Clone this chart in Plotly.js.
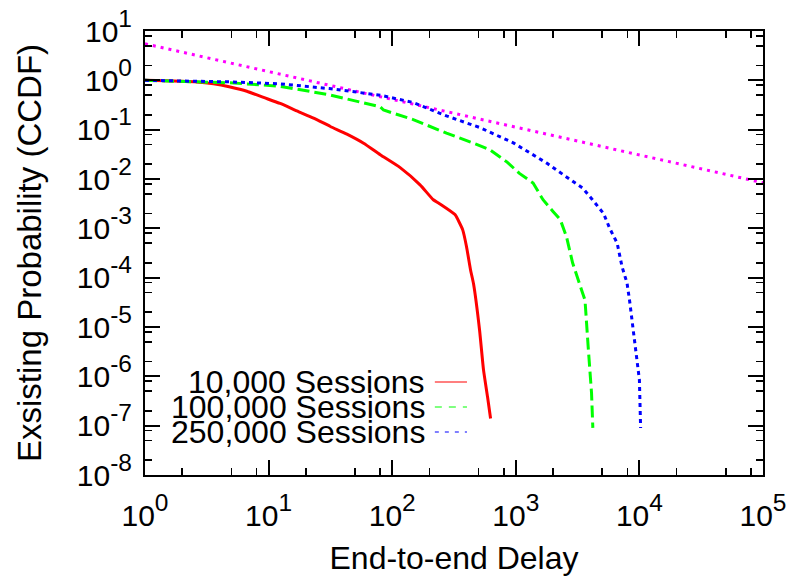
<!DOCTYPE html>
<html>
<head>
<meta charset="utf-8">
<script src="https://cdn.plot.ly/plotly-3.0.1.min.js"></script>
<style>html,body{margin:0;padding:0;background:#fff}#chart{width:792px;height:586px}</style>
</head>
<body>
<div id="chart"></div>
<script>
// ---- data ----
const seriesNames = ['10,000 Sessions', '100,000 Sessions', '250,000 Sessions'];

const redX = [1, 2.62, 3.58, 4.89, 6.67, 9.1, 12.4, 16.9, 23.1, 31.6, 43, 58.7, 80, 116, 168, 215, 240, 322, 350, 372, 399, 430, 455, 509, 548, 591, 625];
const redY = [1.0, 0.93, 0.85, 0.73, 0.60, 0.45, 0.34, 0.24, 0.172, 0.116, 0.081, 0.053, 0.031, 0.017, 0.0076, 0.0038, 0.0032, 0.0019, 0.0013, 0.00093, 0.00043, 0.000145, 0.000075, 0.0000087, 0.00000135, 0.00000038, 0.00000014];

const greenX = [1, 4.9, 12.3, 31, 80, 85, 148, 275, 447, 617, 851, 1070, 1380, 1660, 2000, 2290, 2570, 2880, 3470, 3630, 3850, 4100, 4200];
const greenY = [1.0, 0.89, 0.76, 0.51, 0.29, 0.25, 0.16, 0.085, 0.054, 0.039, 0.022, 0.013, 0.0083, 0.0038, 0.0022, 0.0015, 0.00068, 0.0002, 0.000049, 0.000035, 0.000004, 0.00000046, 0.00000009];

const blueX = [1, 4.9, 12.3, 31, 80, 148, 275, 513, 955, 1780, 2570, 3470, 4170, 5130, 5750, 6610, 7240, 7940, 8320, 8910, 9550, 10000, 10230];
const blueY = [1.0, 0.93, 0.85, 0.68, 0.50, 0.355, 0.19, 0.11, 0.054, 0.021, 0.011, 0.0066, 0.0038, 0.002, 0.001, 0.0005, 0.000166, 0.000078, 0.000035, 0.0000087, 0.0000021, 0.00000085, 0.00000009];

const fitX = [1, 100000];
const fitY = [5.5, 0.0084];

const xTickVals = [1, 10, 100, 1000, 10000, 100000];
const xTickExp = ['0', '1', '2', '3', '4', '5'];
const yTickVals = [1e-8, 1e-7, 1e-6, 1e-5, 1e-4, 1e-3, 1e-2, 1e-1, 1, 10];
const yTickExp = ['-8', '-7', '-6', '-5', '-4', '-3', '-2', '-1', '0', '1'];
const minorMultipliers = [2, 5, 8];

// ---- styling ----
const FONT = 'Liberation Sans, Arial, Helvetica, sans-serif';
const colors = ['#ff0000', '#00ff00', '#0000ff'];
const dashes = ['solid', '12px,5px', '4px,4px'];
const legendDashes = ['solid', '7px,7px', '4px,6px'];

const powLabel = e => '10<span style="font-size:35px"><sup>' + e + '</sup></span>';

function minorVals(lo, hi) {
  const v = [];
  for (let e = lo; e < hi; e++) minorMultipliers.forEach(m => v.push(m * Math.pow(10, e)));
  return v;
}

const traces = [
  {x: fitX, y: fitY, mode: 'lines', line: {color: '#ff00ff', width: 3, dash: '3px,5px'}, showlegend: false, hoverinfo: 'skip'},
  {x: redX, y: redY, mode: 'lines', name: seriesNames[0], line: {color: colors[0], width: 3, dash: dashes[0], shape: 'spline', smoothing: 0.5}, showlegend: false},
  {x: greenX, y: greenY, mode: 'lines', name: seriesNames[1], line: {color: colors[1], width: 3, dash: dashes[1]}, showlegend: false},
  {x: blueX, y: blueY, mode: 'lines', name: seriesNames[2], line: {color: colors[2], width: 3, dash: dashes[2]}, showlegend: false}
];

// legend drawn as right-aligned text + sample line (as in the reference)
const legRowsY = [0.2095, 0.1532, 0.0968];
const annotations = seriesNames.map((n, i) => ({
  text: n, xref: 'paper', yref: 'paper', x: 0.4563, y: legRowsY[i], xanchor: 'right', yanchor: 'middle',
  showarrow: false, font: {family: FONT, size: 32, color: '#000'}
}));
const shapes = seriesNames.map((n, i) => ({
  type: 'line', xref: 'paper', yref: 'paper', x0: 0.469, x1: 0.521, y0: legRowsY[i], y1: legRowsY[i],
  line: {color: colors[i], width: 1.2, dash: legendDashes[i]}
}));

const axisCommon = {
  type: 'log', showline: true, linewidth: 2, linecolor: '#000', mirror: 'allticks',
  ticks: 'inside', ticklen: 15, tickwidth: 2, tickcolor: '#000',
  showgrid: false, zeroline: false,
  tickfont: {family: FONT, size: 30, color: '#000'}
};

const layout = {
  width: 792, height: 586,
  margin: {l: 145, r: 29, t: 31, b: 111},
  paper_bgcolor: '#fff', plot_bgcolor: '#fff',
  font: {family: FONT, color: '#000'},
  showlegend: false,
  xaxis: Object.assign({}, axisCommon, {
    range: [0, 5], tickmode: 'array', tickvals: xTickVals, ticktext: xTickExp.map(powLabel),
    ticklabelstandoff: 13,
    minor: {tickmode: 'array', tickvals: minorVals(0, 5), ticks: 'inside', ticklen: 7, tickwidth: 1.5, tickcolor: '#000', showgrid: false},
    title: {text: 'End-to-end Delay', font: {family: FONT, size: 32, color: '#000'}, standoff: 16}
  }),
  yaxis: Object.assign({}, axisCommon, {
    range: [-8, 1], tickmode: 'array', tickvals: yTickVals, ticktext: yTickExp.map(powLabel),
    ticklabelstandoff: 5,
    minor: {tickmode: 'array', tickvals: minorVals(-8, 1), ticks: 'inside', ticklen: 7, tickwidth: 1.5, tickcolor: '#000', showgrid: false},
    title: {text: 'Exsisting Probability (CCDF)', font: {family: FONT, size: 33, color: '#000'}, standoff: 25}
  }),
  annotations: annotations,
  shapes: shapes
};

Plotly.newPlot('chart', traces, layout, {staticPlot: true, displayModeBar: false});
</script>
</body>
</html>
